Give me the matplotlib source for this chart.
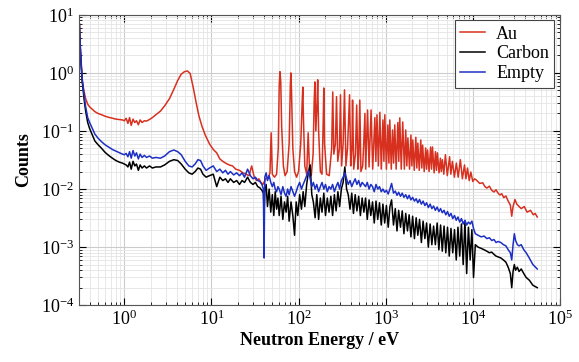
import matplotlib
matplotlib.use("Agg")
import matplotlib.pyplot as plt
import numpy as np

plt.rcParams['font.family'] = ['Liberation Serif', 'DejaVu Serif']
plt.rcParams['mathtext.fontset'] = 'stix'

# Au sample (red)
au_E = [0.305, 0.31, 0.32, 0.33, 0.345, 0.36, 0.38, 0.40, 0.43, 0.46,
        0.50, 0.55, 0.60, 0.66, 0.73, 0.80, 0.88, 0.95, 1.00, 1.05,
        1.10, 1.15, 1.20, 1.26, 1.32, 1.38, 1.45, 1.52, 1.60, 1.70,
        1.8, 1.95, 2.1, 2.3, 2.6, 2.9, 3.3, 3.7, 4.1, 4.5,
        4.9, 5.3, 5.7, 6.2, 6.7, 7.2, 7.8, 8.5, 9.5, 10.5,
        11.5, 12.5, 13.5, 14.5, 16, 17.5, 19, 21, 23, 25,
        27, 29, 31, 33, 35, 37, 39, 42, 45, 47,
        48.5, 50, 53, 56, 58.5, 60, 61.2, 62.5, 64, 67,
        70, 74, 78, 80.5, 81.6, 83, 86, 90, 95, 100,
        106, 110, 112, 114, 118, 124, 129, 134, 140, 147,
        151, 154, 158, 163, 166, 170, 178, 186, 192, 195,
        199, 210, 225, 240, 247, 254, 265, 273, 282, 295,
        303, 312, 325, 337, 350, 365, 385, 397, 410, 417,
        430, 450, 465, 480, 492, 505, 520, 545, 560, 578,
        590, 620, 645, 680, 710, 752, 772, 795, 825, 858,
        890, 930, 955, 978, 1020, 1060, 1090, 1116, 1160, 1200,
        1235, 1273, 1320, 1380, 1415, 1452, 1510, 1570, 1640, 1700,
        1750, 1800, 1880, 1950, 2000, 2050, 2130, 2220, 2280, 2340,
        2430, 2530, 2600, 2660, 2770, 2880, 2950, 3030, 3150, 3280,
        3360, 3450, 3600, 3730, 3830, 3930, 4100, 4250, 4350, 4480,
        4650, 4850, 5100, 5420, 5600, 5840, 6150, 6480, 6800, 7200,
        7600, 8040, 8350, 8700, 9100, 9500, 10000, 10500, 11000, 12000,
        13000, 13800, 14500, 15500, 16500, 17500, 18500, 19500, 20500, 21500,
        22700, 24000, 25500, 27000, 28000, 29000, 30500, 32000, 34000, 36000,
        39000, 42000, 46000, 49500, 52000, 55000]
au_counts = [7.0, 3.6, 1.6, 0.70, 0.48, 0.36, 0.29, 0.26, 0.235, 0.215,
             0.2, 0.19, 0.18, 0.172, 0.166, 0.16, 0.157, 0.155, 0.15, 0.165,
             0.135, 0.17, 0.125, 0.16, 0.14, 0.15, 0.128, 0.155, 0.14, 0.15,
             0.148, 0.158, 0.17, 0.19, 0.22, 0.27, 0.36, 0.52, 0.74, 0.95,
             1.05, 1.08, 0.98, 0.55, 0.3, 0.18, 0.12, 0.085, 0.06, 0.048,
             0.042, 0.033, 0.030, 0.028, 0.026, 0.025, 0.022, 0.021, 0.019, 0.018,
             0.017, 0.025, 0.016, 0.014, 0.015, 0.013, 0.012, 0.015, 0.016, 0.019,
             0.093, 0.018, 0.016, 0.018, 0.05, 0.6, 1.05, 0.7, 0.12, 0.025,
             0.017, 0.02, 0.06, 0.6, 1.0, 0.5, 0.05, 0.02, 0.016, 0.02,
             0.06, 0.3, 0.57, 0.15, 0.025, 0.018, 0.093, 0.02, 0.017, 0.04,
             0.3, 0.7, 0.1, 0.3, 0.76, 0.1, 0.02, 0.018, 0.15, 0.55,
             0.06, 0.018, 0.017, 0.05, 0.47, 0.04, 0.06, 0.39, 0.03, 0.05,
             0.42, 0.025, 0.06, 0.51, 0.025, 0.05, 0.42, 0.025, 0.05, 0.34,
             0.022, 0.04, 0.28, 0.022, 0.04, 0.34, 0.02, 0.025, 0.06, 0.2,
             0.022, 0.23, 0.024, 0.23, 0.022, 0.17, 0.03, 0.19, 0.025, 0.21,
             0.022, 0.155, 0.03, 0.19, 0.022, 0.127, 0.028, 0.155, 0.022, 0.104,
             0.028, 0.127, 0.022, 0.14, 0.03, 0.168, 0.022, 0.143, 0.022, 0.104,
             0.025, 0.076, 0.022, 0.085, 0.025, 0.07, 0.021, 0.078, 0.023, 0.062,
             0.021, 0.07, 0.023, 0.057, 0.02, 0.051, 0.022, 0.047, 0.02, 0.053,
             0.022, 0.053, 0.019, 0.044, 0.021, 0.042, 0.019, 0.034, 0.02, 0.032,
             0.018, 0.039, 0.017, 0.036, 0.018, 0.03, 0.016, 0.028, 0.016, 0.032,
             0.015, 0.026, 0.015, 0.023, 0.014, 0.0196, 0.0135, 0.015, 0.0143, 0.0125,
             0.0128, 0.011, 0.0104, 0.0112, 0.0095, 0.0089, 0.0097, 0.0085, 0.0079, 0.0083,
             0.0071, 0.0076, 0.0062, 0.0053, 0.0034, 0.005, 0.0066, 0.0055, 0.005, 0.0046,
             0.005, 0.004, 0.0043, 0.0036, 0.0038, 0.0033]

# shared energy grid for carbon and empty runs
bg_E = [0.305, 0.31, 0.32, 0.33, 0.345, 0.36, 0.38, 0.40, 0.43, 0.46,
        0.50, 0.55, 0.60, 0.66, 0.73, 0.80, 0.88, 0.95, 1.00, 1.05,
        1.10, 1.15, 1.20, 1.26, 1.32, 1.38, 1.45, 1.52, 1.60, 1.70,
        1.80, 1.95, 2.1, 2.3, 2.6, 2.9, 3.3, 3.7, 4.1, 4.5,
        5.0, 5.5, 6.0, 6.5, 7.0, 7.5, 8.0, 8.7, 9.5, 10.5,
        11.5, 12.5, 13.5, 14.5, 15.5, 16.5, 18, 19.5, 21, 22.5,
        24, 26, 28, 30, 32, 34, 36, 38, 39.5, 40.2,
        41, 42.5, 44, 46, 48, 50, 52, 54, 56, 58,
        60, 63, 66, 69, 72, 75, 78, 82, 86, 90,
        94, 98, 103, 108, 113, 118, 124, 130, 136, 142,
        148, 155, 162, 170, 178, 186, 195, 204, 214, 224,
        235, 246, 258, 270, 283, 296, 310, 325, 340, 356,
        372, 390, 408, 427, 447, 468, 490, 513, 537, 562,
        588, 615, 645, 675, 707, 740, 775, 811, 850, 890,
        930, 975, 1020, 1070, 1120, 1170, 1230, 1290, 1350, 1410,
        1480, 1550, 1620, 1700, 1780, 1860, 1950, 2040, 2140, 2240,
        2340, 2450, 2570, 2690, 2820, 2950, 3090, 3240, 3390, 3550,
        3720, 3900, 4080, 4270, 4470, 4680, 4900, 5130, 5370, 5620,
        5890, 6170, 6460, 6760, 7080, 7410, 7760, 8130, 8510, 8910,
        9330, 9770, 10200, 10700, 11500, 12500, 13500, 14500, 15500, 16500,
        17500, 18500, 19500, 21000, 22500, 24000, 25500, 27000, 28000, 29000,
        30000, 31000, 32500, 34000, 36000, 38500, 41000, 44500, 49000, 55000]

carbon_counts = [7.0, 3.3, 1.3, 0.68, 0.36, 0.22, 0.14, 0.11, 0.085, 0.067,
                 0.058, 0.050, 0.043, 0.038, 0.034, 0.031, 0.029, 0.028, 0.027, 0.026,
                 0.024, 0.029, 0.022, 0.030, 0.025, 0.027, 0.021, 0.026, 0.023, 0.025,
                 0.023, 0.025, 0.023, 0.024, 0.024, 0.026, 0.030, 0.032, 0.031, 0.027,
                 0.022, 0.019, 0.018, 0.020, 0.023, 0.022, 0.018, 0.016, 0.017, 0.018,
                 0.011, 0.016, 0.014, 0.015, 0.013, 0.015, 0.013, 0.014, 0.012, 0.014,
                 0.013, 0.016, 0.013, 0.012, 0.013, 0.011, 0.0105, 0.0095, 0.0085, 0.004,
                 0.009, 0.012, 0.005, 0.010, 0.004, 0.008, 0.0035, 0.009, 0.0045, 0.007,
                 0.0035, 0.0075, 0.003, 0.006, 0.004, 0.0075, 0.0028, 0.006, 0.0035, 0.0016,
                 0.006, 0.0035, 0.008, 0.0045, 0.009, 0.005, 0.012, 0.02, 0.026, 0.008,
                 0.006, 0.0032, 0.008, 0.003, 0.007, 0.004, 0.0085, 0.0035, 0.007, 0.004,
                 0.0075, 0.0035, 0.008, 0.0042, 0.009, 0.005, 0.010, 0.013, 0.024, 0.010,
                 0.008, 0.0045, 0.0085, 0.0038, 0.008, 0.0042, 0.0075, 0.0035, 0.007, 0.004,
                 0.007, 0.003, 0.0065, 0.0035, 0.006, 0.0026, 0.0062, 0.003, 0.0058, 0.0024,
                 0.0055, 0.0026, 0.0052, 0.0022, 0.005, 0.0065, 0.0024, 0.0046, 0.0019, 0.0043,
                 0.0022, 0.0042, 0.0017, 0.0038, 0.0019, 0.0036, 0.0015, 0.0034, 0.0014, 0.0032,
                 0.0016, 0.003, 0.0012, 0.0028, 0.0014, 0.0026, 0.001, 0.0025, 0.0011, 0.0023,
                 0.0011, 0.0026, 0.0009, 0.0024, 0.00085, 0.0023, 0.0008, 0.0022, 0.0007, 0.0021,
                 0.0008, 0.002, 0.0006, 0.0022, 0.0007, 0.0025, 0.0005, 0.0028, 0.00035, 0.0022,
                 0.0006, 0.002, 0.0003, 0.0011, 0.001, 0.00095, 0.0009, 0.00085, 0.0008, 0.00082,
                 0.00075, 0.0007, 0.00068, 0.00065, 0.0006, 0.00055, 0.00045, 0.00035, 0.0002, 0.00038,
                 0.0005, 0.0004, 0.00045, 0.00038, 0.00042, 0.00035, 0.0003, 0.00027, 0.00022, 0.0002]

empty_counts = [7.0, 3.5, 1.4, 0.75, 0.42, 0.26, 0.17, 0.14, 0.11, 0.088,
                0.075, 0.065, 0.058, 0.053, 0.048, 0.045, 0.042, 0.040, 0.039, 0.041,
                0.036, 0.044, 0.034, 0.046, 0.037, 0.042, 0.033, 0.040, 0.035, 0.038,
                0.035, 0.037, 0.034, 0.035, 0.034, 0.037, 0.044, 0.047, 0.044, 0.039,
                0.030, 0.025, 0.024, 0.027, 0.032, 0.031, 0.025, 0.021, 0.023, 0.025,
                0.020, 0.022, 0.019, 0.021, 0.018, 0.020, 0.0175, 0.019, 0.017, 0.019,
                0.016, 0.022, 0.017, 0.015, 0.016, 0.014, 0.0135, 0.012, 0.010, 0.00065,
                0.016, 0.019, 0.014, 0.017, 0.013, 0.011, 0.013, 0.010, 0.009, 0.011,
                0.010, 0.008, 0.011, 0.0085, 0.0075, 0.010, 0.008, 0.011, 0.009, 0.0075,
                0.009, 0.011, 0.013, 0.010, 0.012, 0.014, 0.017, 0.021, 0.015, 0.011,
                0.013, 0.010, 0.012, 0.009, 0.011, 0.013, 0.010, 0.012, 0.009, 0.011,
                0.010, 0.012, 0.009, 0.011, 0.013, 0.010, 0.014, 0.016, 0.019, 0.015,
                0.012, 0.014, 0.011, 0.013, 0.015, 0.012, 0.014, 0.011, 0.013, 0.012,
                0.011, 0.013, 0.010, 0.012, 0.011, 0.009, 0.012, 0.010, 0.011, 0.009,
                0.010, 0.0088, 0.0095, 0.0082, 0.010, 0.0125, 0.0085, 0.0092, 0.0078, 0.0088,
                0.0075, 0.0085, 0.0072, 0.008, 0.0068, 0.0078, 0.0065, 0.0072, 0.0062, 0.0068,
                0.0058, 0.0066, 0.0055, 0.0062, 0.0052, 0.0058, 0.0048, 0.0055, 0.0046, 0.0051,
                0.0043, 0.0049, 0.0041, 0.0046, 0.0039, 0.0043, 0.0036, 0.0041, 0.0034, 0.0038,
                0.0031, 0.0035, 0.0029, 0.0033, 0.0027, 0.0031, 0.0025, 0.0029, 0.0024, 0.0027,
                0.0025, 0.0028, 0.0021, 0.0017, 0.0016, 0.0015, 0.00155, 0.0014, 0.00145, 0.0013,
                0.00135, 0.0012, 0.00125, 0.0012, 0.0011, 0.00105, 0.0009, 0.0008, 0.0006, 0.0011,
                0.0017, 0.0013, 0.0011, 0.00105, 0.0011, 0.0009, 0.0008, 0.00065, 0.0005, 0.00042]

fig = plt.figure(figsize=(5.79, 3.62), dpi=100)
ax = fig.add_axes([0.136, 0.157, 0.831, 0.802])

ax.plot(au_E, au_counts, color='#d8301f', lw=1.1, label='Au')
ax.plot(bg_E, carbon_counts, color='black', lw=1.1, label='Carbon')
ax.plot(bg_E, empty_counts, color='#1c2fc4', lw=1.1, label='Empty')

ax.set_xscale('log')
ax.set_yscale('log')
ax.set_xlim(0.3, 1e5)
ax.set_ylim(1e-4, 1e1)

ax.grid(which='major', color='#cccccc', lw=0.8)
ax.grid(which='minor', color='#e4e4e4', lw=0.6)
ax.set_axisbelow(True)
ax.tick_params(which='both', direction='in', top=True, right=True, labelsize=13)
ax.tick_params(which='major', length=5)
ax.tick_params(which='minor', length=2.5)
for s in ax.spines.values():
    s.set_color('#555555')

ax.set_xlabel('Neutron Energy / eV', fontsize=13, fontweight='bold', labelpad=2)
ax.set_ylabel('Counts', fontsize=13, fontweight='bold', labelpad=6)

leg = ax.legend(loc='upper right', fontsize=13, fancybox=False, framealpha=1,
                edgecolor='#444444', handlelength=1.4, borderpad=0.3,
                labelspacing=0.15, handletextpad=0.6, borderaxespad=0.3)
leg.get_frame().set_linewidth(0.8)

fig.savefig('out.png', dpi=100)
